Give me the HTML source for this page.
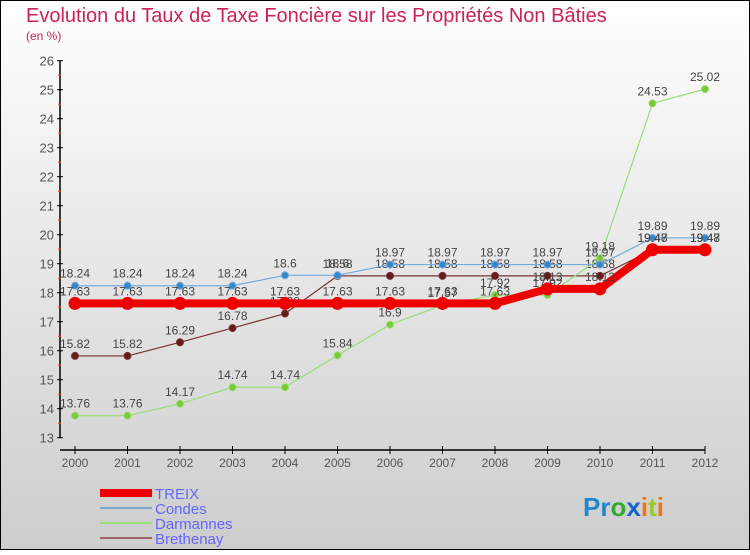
<!DOCTYPE html>
<html><head><meta charset="utf-8"><style>
body{margin:0}
svg text{font-family:"Liberation Sans",sans-serif}
</style></head><body>
<svg width="750" height="550" xmlns="http://www.w3.org/2000/svg">
<defs><linearGradient id="bg" x1="0" y1="0" x2="0" y2="1"><stop offset="0" stop-color="#ffffff"/><stop offset="1" stop-color="#cdcdcd"/></linearGradient></defs>
<rect x="0.5" y="0.5" width="749" height="549" fill="url(#bg)" stroke="#000"/>
<text x="26" y="22" font-size="20" fill="#cc2255">Evolution du Taux de Taxe Foncière sur les Propriétés Non Bâties</text>
<text x="26" y="40" font-size="12" fill="#cc2255">(en %)</text>
<g id="axes"></g>
<g id="series"></g>
<g id="legend">
<rect x="100" y="489" width="52" height="8" fill="#ee0000"/>
<text x="155" y="499" font-size="15" fill="#6666ff">TREIX</text>
<line x1="100" y1="508" x2="152" y2="508" stroke="#7aa8cc" stroke-width="2"/>
<text x="155" y="514" font-size="15" fill="#6666ff">Condes</text>
<line x1="100" y1="523" x2="152" y2="523" stroke="#99dd77" stroke-width="2"/>
<text x="155" y="529" font-size="15" fill="#6666ff">Darmannes</text>
<line x1="100" y1="538" x2="152" y2="538" stroke="#996666" stroke-width="2"/>
<text x="155" y="544" font-size="15" fill="#6666ff">Brethenay</text>
</g>
<g font-size="26" font-weight="bold">
<text x="583" y="516"><tspan fill="#2288cc">P</tspan><tspan fill="#2288cc">r</tspan><tspan fill="#33aa33">o</tspan><tspan fill="#1166cc">x</tspan><tspan fill="#ee7711">i</tspan><tspan fill="#99cc22">t</tspan><tspan fill="#ee7711">i</tspan></text>
</g>
</svg>
<script>
const years=[2000,2001,2002,2003,2004,2005,2006,2007,2008,2009,2010,2011,2012];
const yTicks=[13,14,15,16,17,18,19,20,21,22,23,24,25,26];
const treix=[17.63,17.63,17.63,17.63,17.63,17.63,17.63,17.63,17.63,18.13,18.13,19.48,19.48];
const condes=[18.24,18.24,18.24,18.24,18.6,18.6,18.97,18.97,18.97,18.97,18.97,19.89,19.89];
const darmannes=[13.76,13.76,14.17,14.74,14.74,15.84,16.9,17.57,17.92,17.92,19.18,24.53,25.02];
const brethenay=[15.82,15.82,16.29,16.78,17.28,18.58,18.58,18.58,18.58,18.58,18.58,19.47,19.47];
const NS='http://www.w3.org/2000/svg';
const X=i=>75+i*52.5, Y=v=>437.7-(v-13)*29;
function mk(t,a,p){const e=document.createElementNS(NS,t);for(const k in a)e.setAttribute(k,a[k]);p.appendChild(e);return e;}
const ax=document.getElementById('axes');
let l=mk('line',{x1:60,y1:Y(26),x2:60,y2:Y(13),stroke:'#000','stroke-width':1.5},ax);


l=mk('line',{x1:60,y1:450,x2:X(12),y2:450,stroke:'#000','stroke-width':1.5},ax);


yTicks.forEach((v,i)=>{
 mk('line',{x1:57,y1:Y(v),x2:63,y2:Y(v),stroke:'#000'},ax);
 if(i<yTicks.length-1) mk('line',{x1:58,y1:Y(v+0.5),x2:61,y2:Y(v+0.5),stroke:'#ff3333'},ax);
 const t=mk('text',{x:54,y:Y(v)+5,'text-anchor':'end','font-size':13,fill:'#555'},ax);t.textContent=v;
 
 
});
years.forEach((yr,i)=>{
 mk('line',{x1:X(i),y1:446,x2:X(i),y2:454,stroke:'#000'},ax);
 const t=mk('text',{x:X(i),y:467,'text-anchor':'middle','font-size':12,fill:'#555'},ax);t.textContent=yr;
 
 
});
const sg=document.getElementById('series');
function series(name,vals,color,w,r,dot){
 const g=mk('g',{},sg);
 
 
 const p=mk('polyline',{points:vals.map((v,i)=>X(i)+','+Y(v)).join(' '),fill:'none',stroke:color,'stroke-width':w,'stroke-linejoin':'round'},g);
 
 
 vals.forEach((v,i)=>{
  const c=mk('circle',{cx:X(i),cy:Y(v),r:r,fill:dot,stroke:color,'stroke-width':1},g);
  
  
  const t=mk('text',{x:X(i),y:Y(v)-8,'text-anchor':'middle','font-size':12,fill:'#444'},g);t.textContent=v;
  
  
 });
}
series('brethenay',brethenay,'#773333',1.2,3.5,'#661a1a');
series('darmannes',darmannes,'#99dd77',1.2,3.5,'#77cc33');
series('condes',condes,'#77aadd',1.2,3.5,'#3388cc');
series('treix',treix,'#ee0000',8,6,'#ee0000');
</script>
</body></html>
